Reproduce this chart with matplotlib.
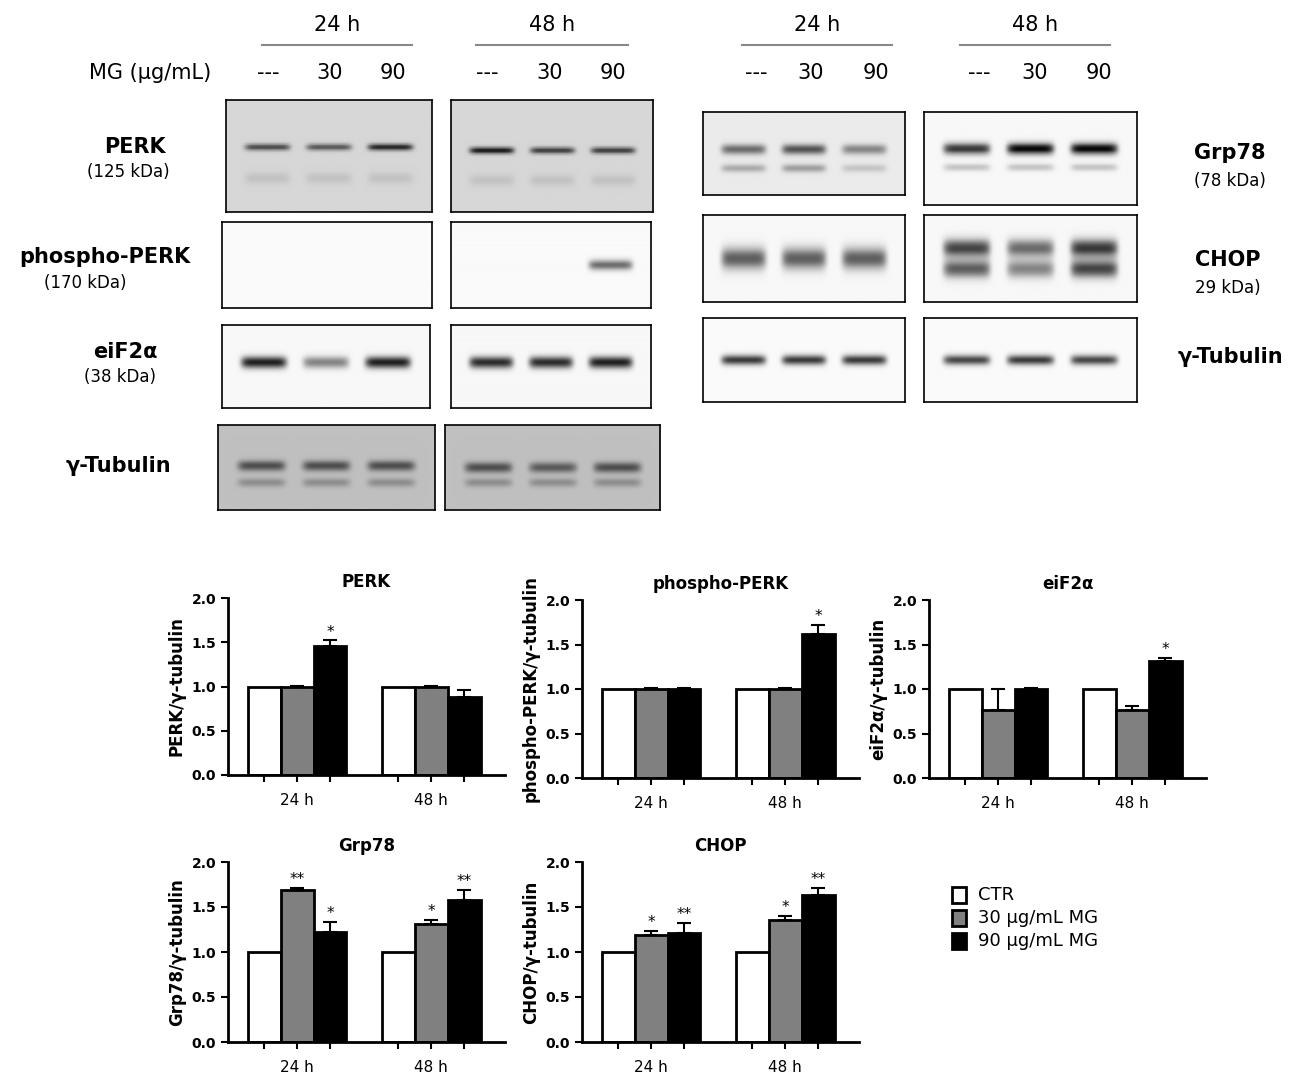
import matplotlib.pyplot as plt
import numpy as np

W, H = 1299, 1080
fig = plt.figure(figsize=(12.99, 10.8), dpi=100)

def px(x, y):
    return x / W, 1 - y / H

def ax_px(x0, y0, x1, y1):
    return fig.add_axes([x0 / W, 1 - y1 / H, (x1 - x0) / W, (y1 - y0) / H])

# ---------------- bar data ----------------
groups = ["24 h", "48 h"]
series = ["CTR", "30 \u03bcg/mL MG", "90 \u03bcg/mL MG"]
colors = ["white", "#808080", "black"]

perk_mean = [[1.0, 1.0, 1.46], [1.0, 1.0, 0.88]]
perk_err = [[0, 0.01, 0.06], [0, 0.01, 0.08]]
perk_star = [["", "", "*"], ["", "", ""]]

pperk_mean = [[1.0, 1.0, 1.0], [1.0, 1.0, 1.62]]
pperk_err = [[0, 0.01, 0.01], [0, 0.01, 0.1]]
pperk_star = [["", "", ""], ["", "", "*"]]

eif_mean = [[1.0, 0.76, 1.0], [1.0, 0.76, 1.31]]
eif_err = [[0, 0.24, 0.01], [0, 0.05, 0.04]]
eif_star = [["", "", ""], ["", "", "*"]]

grp_mean = [[1.0, 1.69, 1.22], [1.0, 1.31, 1.58]]
grp_err = [[0, 0.02, 0.11], [0, 0.05, 0.11]]
grp_star = [["", "**", "*"], ["", "*", "**"]]

chop_mean = [[1.0, 1.19, 1.21], [1.0, 1.36, 1.63]]
chop_err = [[0, 0.04, 0.11], [0, 0.04, 0.08]]
chop_star = [["", "*", "**"], ["", "*", "**"]]

bw = 0.245

def bar_panel(box, title, ylabel, mean, err, star):
    ax = ax_px(*box)
    for g in range(2):
        for s in range(3):
            x = g + (s - 1) * bw
            ax.bar(x, mean[g][s], bw, color=colors[s], edgecolor="black", lw=2)
            if err[g][s] > 0:
                ax.errorbar(x, mean[g][s], yerr=[[0], [err[g][s]]], color="black",
                            capsize=5, lw=1.5, capthick=1.5)
            if star[g][s]:
                ax.text(x, mean[g][s] + err[g][s] + 0.01, star[g][s], ha="center",
                        va="bottom", fontsize=11)
    ax.set_xlim(-0.515, 1.55)
    ax.set_ylim(0, 2.0)
    ax.set_yticks([0, 0.5, 1.0, 1.5, 2.0])
    ax.set_yticklabels(["0.0", "0.5", "1.0", "1.5", "2.0"], fontweight="bold", fontsize=10)
    ax.set_xticks([g + (s - 1) * bw for g in range(2) for s in range(3)])
    ax.set_xticklabels([])
    for g in range(2):
        ax.text(g, -0.1, groups[g], transform=ax.get_xaxis_transform(), ha="center",
                va="top", fontsize=11)
    ax.tick_params(width=1.5, length=5)
    for sp in ["top", "right"]:
        ax.spines[sp].set_visible(False)
    ax.spines["left"].set_linewidth(2)
    ax.spines["bottom"].set_linewidth(2)
    ax.set_title(title, fontweight="bold", fontsize=12, pad=8)
    ax.set_ylabel(ylabel, fontweight="bold", fontsize=12)
    return ax

bar_panel((228, 598, 505, 775), "PERK", "PERK/\u03b3-tubulin", perk_mean, perk_err, perk_star)
bar_panel((582, 600, 859, 778), "phospho-PERK", "phospho-PERK/\u03b3-tubulin", pperk_mean, pperk_err, pperk_star)
bar_panel((929, 600, 1206, 778), "eiF2\u03b1", "eiF2\u03b1/\u03b3-tubulin", eif_mean, eif_err, eif_star)
bar_panel((228, 862, 505, 1042), "Grp78", "Grp78/\u03b3-tubulin", grp_mean, grp_err, grp_star)
bar_panel((582, 862, 859, 1042), "CHOP", "CHOP/\u03b3-tubulin", chop_mean, chop_err, chop_star)

for i, s in enumerate(series):
    x, y = px(952, 895 + i * 23)
    fig.patches.append(plt.Rectangle((x, y - 0.007), 0.011, 0.014, transform=fig.transFigure,
                                     facecolor=colors[i], edgecolor="black", lw=2))
    fig.text(x + 0.02, y, s, va="center", fontsize=13)

# ---------------- blots ----------------
# (band y position in panel fraction, sigma, lane darkness x3)
blots = [
    # box, background, bands
    ((226, 100, 432, 212), 0.84, [(0.42, 0.03, [0.55, 0.5, 0.7]), (0.7, 0.05, [0.08, 0.08, 0.08])]),
    ((451, 100, 653, 212), 0.84, [(0.45, 0.03, [0.75, 0.6, 0.6]), (0.72, 0.05, [0.08, 0.08, 0.08])]),
    ((222, 222, 432, 308), 0.98, [(0.5, 0.05, [0.0, 0.0, 0.0])]),
    ((451, 222, 651, 308), 0.98, [(0.5, 0.06, [0.0, 0.0, 0.55])]),
    ((222, 325, 430, 408), 0.97, [(0.45, 0.07, [0.85, 0.45, 0.85])]),
    ((451, 325, 651, 408), 0.97, [(0.45, 0.07, [0.8, 0.8, 0.85])]),
    ((218, 425, 435, 510), 0.75, [(0.48, 0.06, [0.45, 0.45, 0.45]), (0.68, 0.05, [0.2, 0.2, 0.2])]),
    ((445, 425, 660, 510), 0.75, [(0.5, 0.06, [0.45, 0.4, 0.45]), (0.68, 0.05, [0.2, 0.2, 0.2])]),
    ((703, 112, 905, 195), 0.92, [(0.45, 0.06, [0.5, 0.6, 0.4]), (0.68, 0.05, [0.25, 0.3, 0.15])]),
    ((924, 112, 1137, 205), 0.97, [(0.4, 0.06, [0.75, 0.95, 0.95]), (0.6, 0.04, [0.2, 0.2, 0.2])]),
    ((703, 215, 905, 302), 0.97, [(0.5, 0.12, [0.6, 0.6, 0.6])]),
    ((924, 215, 1137, 302), 0.97, [(0.38, 0.1, [0.7, 0.55, 0.75]), (0.62, 0.1, [0.6, 0.45, 0.7])]),
    ((703, 318, 905, 402), 0.98, [(0.5, 0.06, [0.75, 0.75, 0.75])]),
    ((924, 318, 1137, 402), 0.98, [(0.5, 0.06, [0.7, 0.75, 0.7])]),
]

for box, bg, bands in blots:
    ax = ax_px(*box)
    nh, nw = 80, 200
    yy = np.linspace(0, 1, nh)[:, None]
    xx = np.linspace(0, 1, nw)[None, :]
    img = np.full((nh, nw), bg)
    for yc, sg, lanes in bands:
        for li, d in enumerate(lanes):
            xc = 0.2 + li * 0.3
            lane = np.exp(-((xx - xc) / 0.11) ** 8)
            img = img - d * np.exp(-((yy - yc) / sg) ** 2) * lane
    ax.imshow(np.clip(img, 0, 1), cmap="gray", vmin=0, vmax=1, aspect="auto")
    ax.set_xticks([])
    ax.set_yticks([])
    for sp in ax.spines.values():
        sp.set_linewidth(1.2)

# headers
for x0, x1, lab in [(262, 412, "24 h"), (476, 628, "48 h"), (742, 892, "24 h"), (960, 1110, "48 h")]:
    fig.text(*px((x0 + x1) / 2, 25), lab, ha="center", va="center", fontsize=15)
    fig.add_artist(plt.Line2D([x0 / W, x1 / W], [1 - 45 / H] * 2, color="#888888", lw=1.5))

fig.text(*px(150, 73), "MG (\u03bcg/mL)", ha="center", va="center", fontsize=15)
lane_x = [268, 330, 393, 487, 550, 613, 756, 811, 876, 979, 1035, 1099]
lane_lab = ["---", "30", "90"] * 4
for x, t in zip(lane_x, lane_lab):
    fig.text(*px(x, 73), t, ha="center", va="center", fontsize=15)

labels = [
    (135, 147, "PERK", True, 15), (128, 172, "(125 kDa)", False, 12),
    (105, 257, "phospho-PERK", True, 15), (85, 283, "(170 kDa)", False, 12),
    (125, 352, "eiF2\u03b1", True, 15), (120, 377, "(38 kDa)", False, 12),
    (118, 466, "\u03b3-Tubulin", True, 15),
    (1230, 153, "Grp78", True, 15), (1230, 181, "(78 kDa)", False, 12),
    (1228, 260, "CHOP", True, 15), (1228, 288, "29 kDa)", False, 12),
    (1230, 357, "\u03b3-Tubulin", True, 15),
]
for x, y, t, b, fs in labels:
    fig.text(*px(x, y), t, ha="center", va="center", fontsize=fs,
             fontweight="bold" if b else "normal")

fig.savefig("out.png", dpi=100)
